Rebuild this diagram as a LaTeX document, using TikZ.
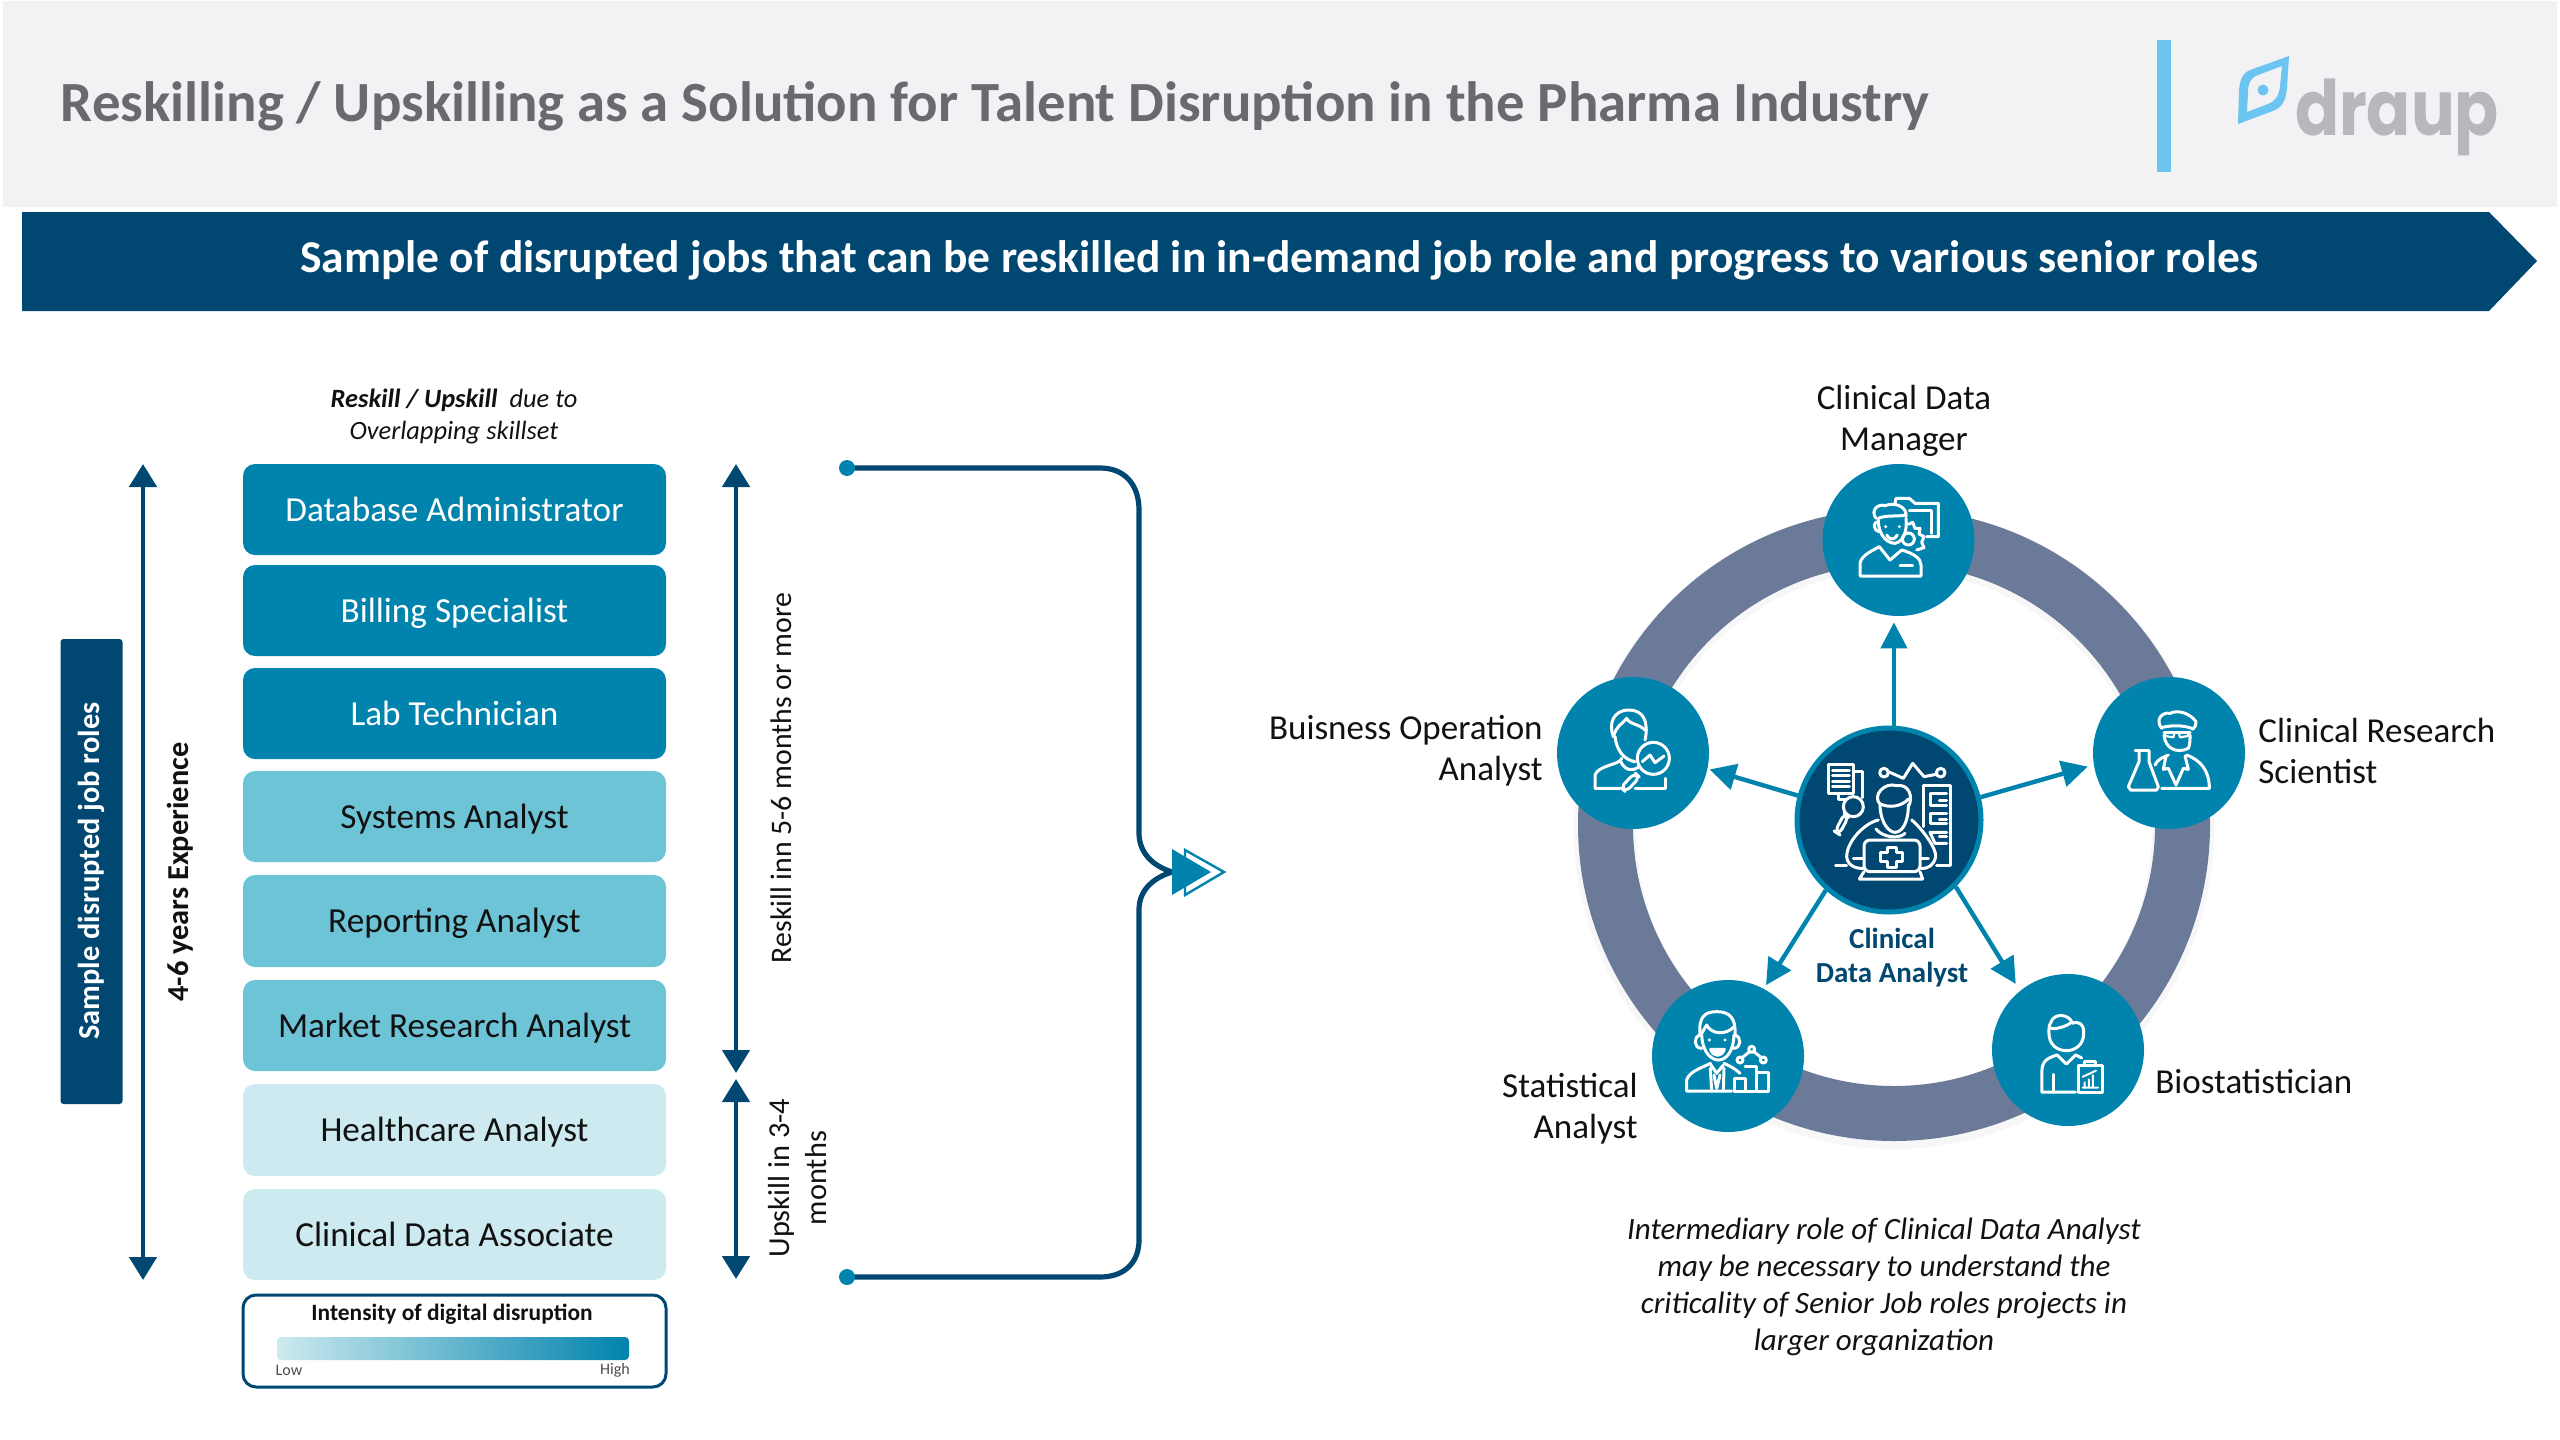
\documentclass[tikz,border=0pt]{standalone}
\usepackage{fontspec}
\setmainfont{Carlito}
\newfontfamily\logofont{Poppins}
\usetikzlibrary{arrows.meta}
\definecolor{navy}{HTML}{004872}
\definecolor{teal1}{HTML}{0083AD}
\definecolor{teal2}{HTML}{6CC4D6}
\definecolor{teal3}{HTML}{CCEAEF}
\definecolor{ringc}{HTML}{6B7A99}
\definecolor{headbg}{HTML}{F2F1F4}
\definecolor{sky}{HTML}{6CC5F1}
\definecolor{titlec}{HTML}{6A6A6E}
\definecolor{inkc}{HTML}{111111}
\definecolor{logoc}{HTML}{B8B8BC}
\tikzset{
 rolebox/.style={rounded corners=6pt,minimum width=211.5pt,inner sep=0pt,text height=15pt,text depth=3.5pt,font=\fontsize{17.6}{21}\selectfont},
 darkrole/.style={rolebox,fill=teal1,text=white},
 midrole/.style={rolebox,fill=teal2,text=inkc},
 lightrole/.style={rolebox,fill=teal3,text=inkc},
 vtip/.style={{Triangle[length=11.5pt,width=13.5pt]}-{Triangle[length=11.5pt,width=13.5pt]},navy,line width=2.4pt},
 spoke/.style={-{Triangle[length=13pt,width=13pt]},teal1,line width=2.2pt},
 hub/.style={circle,fill=teal1,minimum size=76pt,inner sep=0pt},
 lab/.style={font=\fontsize{17.5}{20.5}\selectfont,text=inkc,inner sep=0pt},
 ic/.style={draw=white,line width=1.5pt,line join=round,line cap=round},
 brk/.style={navy,line width=2.6pt},
 crop/.style={x=0.16667pt,y=-0.16667pt},
 bdot/.style={circle,fill=teal1,minimum size=8pt,inner sep=0pt},
}
\begin{document}
\begin{tikzpicture}[x=0.5pt,y=-0.5pt]
\useasboundingbox (0,0) rectangle (2560,1440);
\fill[white] (0,0) rectangle (2560,1440);
% header
\fill[headbg] (3,1) rectangle (2557,207);
\node[anchor=center,text=titlec,inner sep=0pt,font=\fontsize{28.4}{30}\selectfont\bfseries] (title) at (995,106) {Reskilling / Upskilling as a Solution for Talent Disruption in the Pharma Industry};
\fill[sky] (2157,40) rectangle (2171,172);
\fill[sky,even odd rule] (2289,56) .. controls (2270,63) and (2258,67) .. (2250,70) .. controls (2241,74) and (2240,82) .. (2239,90) -- (2238,124) -- (2270,112) .. controls (2284,108) and (2286,98) .. (2287,88) -- cycle
 (2282,66) -- (2258,75) .. controls (2250,78) and (2248,84) .. (2248,92) -- (2247,112) -- (2268,104) .. controls (2276,101) and (2279,95) .. (2280,86) -- cycle;
\fill[sky] (2263,90) circle[radius=5.5];
\node[inner sep=0pt,text=logoc] (logo) at (2397,117) {\resizebox*{102pt}{38.5pt}{\logofont\bfseries draup}};
% banner
\fill[navy] (22,212) -- (2489,212) -- (2537,261) -- (2489,311) -- (22,311) -- cycle;
\node[text=white,inner sep=0pt,font=\fontsize{22.75}{26}\selectfont\bfseries] (bannertext) at (1279,260) {Sample of disrupted jobs that can be reskilled in in-demand job role and progress to various senior roles};
% left column
\node[inner sep=0pt,align=center,font=\fontsize{13.2}{16}\selectfont\itshape,text=inkc] (cap) at (454,416) {\textbf{Reskill / Upskill}\ \ due to\\Overlapping skillset};
\node[darkrole,minimum height=45.5pt] (r1) at (454.5,509.5) {Database Administrator};
\node[darkrole,minimum height=45.5pt] (r2) at (454.5,610.5) {Billing Specialist};
\node[darkrole,minimum height=45.5pt] (r3) at (454.5,713.5) {Lab Technician};
\node[midrole,minimum height=45.5pt] (r4) at (454.5,816.5) {Systems Analyst};
\node[midrole,minimum height=46pt] (r5) at (454.5,921) {Reporting Analyst};
\node[midrole,minimum height=45.5pt] (r6) at (454.5,1025.5) {Market Research Analyst};
\node[lightrole,minimum height=46pt] (r7) at (454.5,1130) {Healthcare Analyst};
\node[lightrole,minimum height=45.5pt] (r8) at (454.5,1234.5) {Clinical Data Associate};
% legend
\draw[navy,line width=1.5pt,rounded corners=6.5pt] (243,1295) rectangle (666,1387);
\node[inner sep=0pt,font=\fontsize{11.7}{14}\selectfont\bfseries,text=inkc] (legt) at (452,1314.5) {Intensity of digital disruption};
\shade[left color=teal3,right color=teal1,rounded corners=2pt] (277,1337) rectangle (629,1360);
\node[inner sep=0pt,font=\fontsize{8}{10}\selectfont,text=black!70] (low) at (289,1370) {Low};
\node[inner sep=0pt,font=\fontsize{8}{10}\selectfont,text=black!70] (high) at (615,1370) {High};
% side bar
\node[fill=navy,rounded corners=1.5pt,minimum width=31pt,minimum height=232.5pt,inner sep=0pt] (sidebar) at (91.5,871.5) {};
\node[rotate=90,text=white,inner sep=0pt,font=\fontsize{15.2}{18}\selectfont\bfseries] (sidetext) at (91,871) {Sample disrupted job roles};
% vertical arrows
\coordinate (a1t) at (143,464); \coordinate (a1b) at (143,1280);
\draw[vtip] (a1t) -- (a1b);
\node[rotate=90,inner sep=0pt,font=\fontsize{15.2}{18}\selectfont\bfseries,text=inkc] (exp) at (180,872) {4-6 years Experience};
\coordinate (a2t) at (736,464); \coordinate (a2b) at (736,1073);
\draw[vtip] (a2t) -- (a2b);
\coordinate (a3t) at (736,1079); \coordinate (a3b) at (736,1279);
\draw[vtip] (a3t) -- (a3b);
\node[rotate=90,inner sep=0pt,font=\fontsize{14.9}{18}\selectfont,text=inkc] (rs) at (781,778) {Reskill inn 5-6 months or more};
\node[rotate=90,inner sep=0pt,align=center,font=\fontsize{15.2}{18.5}\selectfont,text=inkc] (us) at (798,1178) {Upskill in 3-4\\months};
% bracket
\coordinate (bm) at (1172,872);
\coordinate (d1e) at (847,468); \coordinate (d2e) at (847,1277);
\draw[brk] (d1e) -- (1100,468) .. controls (1125,468) and (1139,485) .. (1139,510) -- (1139,833) .. controls (1139,853) and (1153,866) .. (bm);
\draw[brk] (d2e) -- (1100,1277) .. controls (1125,1277) and (1139,1262) .. (1139,1240) -- (1139,910) .. controls (1139,890) and (1153,878) .. (bm);
\node[bdot] (d1) at (d1e) {};
\node[bdot] (d2) at (d2e) {};
\draw[teal1,line width=1.2pt,fill=white,line join=miter] (1185,850) -- (1224,872) -- (1185,895) -- cycle;
\fill[teal1] (1172,849) -- (1211,872) -- (1172,895) -- cycle;
% ring
\fill[black!3] (1894,829) circle[radius=320];
\fill[white] (1894,829) circle[radius=258];
\draw[ringc,line width=27.5pt] (1894,825) circle[radius=288.5];
\node[hub] (top) at (1898.5,540) {};
\node[hub] (lft) at (1633,753) {};
\node[hub] (rgt) at (2169,753) {};
\node[hub] (bl) at (1728,1056) {};
\node[hub] (br) at (2068,1050) {};
\node[circle,fill=navy,draw=teal1,line width=2.5pt,minimum size=92pt,inner sep=0pt] (ctr) at (1889,820) {};
\draw[spoke,shorten >=3pt] (ctr.87) -- (ctr.87 |- top.south);
\draw[spoke,shorten >=1pt] (ctr.165.5) -- (lft.-12.6);
\draw[spoke,shorten >=3pt] (ctr.14.5) -- (rgt.189);
\draw[spoke,shorten >=2pt] (ctr.228) -- (bl.62);
\draw[spoke,shorten >=4pt] (ctr.-45) -- (br.129);
% labels
\node[lab,align=center] (l1) at (1904,421) {Clinical Data\\Manager};
\node[lab,align=right,anchor=east] (l2) at (1543,751) {Buisness Operation\\Analyst};
\node[lab,align=left,anchor=west] (l3) at (2258,751) {Clinical Research\\Scientist};
\node[lab,anchor=west] (l4) at (2155,1082) {Biostatistician};
\node[lab,align=right,anchor=east] (l5) at (1638,1109) {Statistical\\Analyst};
\node[inner sep=0pt,align=center,text=navy,font=\fontsize{14.5}{17}\selectfont\bfseries] (l6) at (1892,958) {Clinical\\Data Analyst};
\node[inner sep=0pt,align=center,text=inkc,font=\fontsize{15.5}{18.6}\selectfont\itshape] (note) at (1884,1287) {Intermediary role of Clinical Data Analyst\\may be necessary to understand the\\criticality of Senior Job roles projects in\\larger organization\hspace*{10pt}};
% top icon
\begin{scope}[shift={(1820,465)},crop]
\draw[ic] (225,115) -- (228,100) -- (268,100) -- (285,115) -- (355,115) -- (355,215) -- (320,215);
\draw[ic] (268,135) -- (335,135) -- (335,205);
\draw[ic] (265,222) circle[radius=18];
\draw[ic] (265,178) -- (278,172) -- (285,190) -- (300,190) -- (297,207) -- (312,215) -- (305,232) -- (312,248) -- (290,255);
\draw[ic] (175,165) .. controls (175,215) and (205,235) .. (225,235) .. controls (250,230) and (262,200) .. (258,160);
\draw[ic] (175,170) .. controls (158,170) and (158,195) .. (178,200);
\draw[ic] (168,160) .. controls (150,135) and (175,115) .. (195,122) .. controls (225,110) and (262,125) .. (258,155);
\draw[ic] (175,160) .. controls (195,150) and (235,155) .. (258,150);
\fill[white] (197,185) circle[radius=5] (238,185) circle[radius=5];
\draw[ic] (200,210) .. controls (208,226) and (224,226) .. (232,210);
\draw[ic] (120,333) -- (120,295) .. controls (125,270) and (155,258) .. (178,245) -- (210,285) -- (245,255) .. controls (280,265) and (303,280) .. (303,300) -- (303,333) -- cycle;
\draw[ic] (240,300) -- (278,300);
\end{scope}
% left icon
\begin{scope}[shift={(1555,680)},crop]
\draw[ic] (175,170) .. controls (160,130) and (175,90) .. (222,90) .. controls (265,90) and (282,125) .. (270,180);
\draw[ic] (175,170) .. controls (185,135) and (205,130) .. (215,115) .. controls (225,135) and (250,130) .. (270,150);
\draw[ic] (180,170) .. controls (185,215) and (210,240) .. (240,245);
\draw[ic] (200,235) .. controls (195,255) and (130,255) .. (120,285) -- (120,325) -- (195,325);
\draw[ic] (197,245) .. controls (212,275) and (235,272) .. (250,262);
\draw[ic] (240,325) -- (330,325) -- (330,295);
\draw[ic] (295,235) circle[radius=48];
\draw[ic] (262,245) -- (285,225) -- (300,248) -- (327,228);
\draw[ic,rounded corners=3pt] (240,278) -- (254,292) -- (212,336) -- (197,322) -- cycle;
\end{scope}
% right icon
\begin{scope}[shift={(2090,680)},crop]
\draw[ic] (215,145) .. controls (195,120) and (215,95) .. (240,100) .. controls (265,88) and (300,100) .. (318,125) .. controls (320,135) and (315,140) .. (308,148);
\draw[ic] (213,143) .. controls (245,135) and (280,135) .. (308,146);
\draw[ic] (222,157) -- (300,157);
\draw[ic,line width=1.1pt] (226,157) -- (226,168) -- (250,172) -- (254,157) (266,157) -- (270,172) -- (294,168) -- (295,157);
\draw[ic] (222,165) .. controls (225,205) and (260,222) .. (295,205) .. controls (300,195) and (300,180) .. (300,165);
\draw[ic] (195,255) .. controls (205,235) and (220,232) .. (235,225);
\draw[ic] (290,225) .. controls (330,240) and (358,270) .. (358,325) -- (215,325);
\draw[ic] (228,228) -- (220,268) -- (235,265) -- (258,315) -- (280,265) -- (295,268) -- (285,228);
\draw[ic] (135,212) -- (175,212);
\draw[ic] (147,212) -- (147,245) -- (115,320) -- (122,330) -- (200,330) -- (205,320) -- (177,245) -- (177,212);
\end{scope}
% bottom-left icon
\begin{scope}[shift={(1650,980)},crop]
\draw[ic] (150,165) .. controls (145,110) and (165,95) .. (200,95) .. controls (240,95) and (258,115) .. (255,165);
\draw[ic] (155,165) .. controls (158,225) and (190,240) .. (205,240) .. controls (225,240) and (250,220) .. (252,165);
\draw[ic] (152,165) -- (170,135) .. controls (185,165) and (230,165) .. (252,140);
\draw[ic] (150,165) .. controls (130,170) and (130,205) .. (155,205);
\draw[ic] (255,165) .. controls (275,170) and (275,205) .. (250,205);
\fill[white] (178,180) circle[radius=5] (225,180) circle[radius=5];
\draw[ic,fill=white] (182,208) -- (223,208) .. controls (215,232) and (190,232) .. cycle;
\draw[ic] (245,333) -- (110,333) -- (110,300) .. controls (118,275) and (150,265) .. (182,250);
\draw[ic] (222,250) .. controls (240,258) and (258,268) .. (270,280);
\draw[ic] (183,255) -- (200,280) -- (220,255);
\draw[ic] (192,285) -- (200,325) -- (210,285);
\draw[ic] (181,265) -- (185,333) (222,265) -- (220,333);
\draw[ic] (252,333) -- (252,295) -- (285,295) -- (285,333);
\draw[ic] (285,258) -- (320,258) -- (320,333);
\draw[ic] (320,278) -- (355,278) -- (355,333) -- (252,333);
\draw[ic] (270,240) circle[radius=9] (305,208) circle[radius=9] (340,240) circle[radius=9];
\draw[ic] (276,233) -- (299,215) (312,215) -- (334,233);
\end{scope}
% bottom-right icon
\begin{scope}[shift={(1500,360)},x=0.2551pt,y=-0.2551pt]
\draw[ic] (1076,1320) .. controls (1076,1365) and (1144,1365) .. (1144,1320) .. controls (1146,1300) and (1130,1295) .. (1122,1300) .. controls (1115,1280) and (1085,1280) .. (1080,1298) .. controls (1075,1305) and (1076,1312) .. (1076,1320) ;
\draw[ic] (1080,1310) .. controls (1095,1312) and (1110,1305) .. (1118,1300);
\draw[ic] (1092,1362) .. controls (1075,1368) and (1062,1372) .. (1062,1395) -- (1062,1435) -- (1128,1435);
\draw[ic] (1092,1362) -- (1110,1380) -- (1128,1362) -- (1140,1368);
\draw[ic] (1085,1435) -- (1085,1400);
\draw[ic] (1134,1382) -- (1180,1382) -- (1180,1435) -- (1134,1435) -- cycle;
\draw[ic] (1146,1382) -- (1146,1374) -- (1168,1374) -- (1168,1382);
\draw[ic,line width=1pt] (1142,1426) -- (1172,1426) (1146,1424) -- (1146,1416) (1154,1424) -- (1154,1410) (1162,1424) -- (1162,1402) (1142,1405) -- (1168,1393);
\end{scope}
% centre icon
\begin{scope}[shift={(1790,725)},crop]
\draw[ic] (115,118) rectangle (190,205);
\draw[ic] (128,135) -- (178,135) (128,152) -- (178,152) (128,168) -- (178,168) (128,185) -- (178,185);
\draw[ic] (190,140) -- (218,140) -- (218,218);
\draw[ic] (145,205) -- (145,222) -- (168,222);
\draw[ic] (190,245) circle[radius=30];
\draw[ic,rounded corners=3pt] (163,265) -- (175,277) -- (147,328) -- (135,320) -- cycle;
\draw[ic] (282,143) circle[radius=13] (452,143) circle[radius=13];
\draw[ic] (295,140) -- (340,160) -- (368,115) -- (402,155) -- (438,148);
\draw[ic] (400,305) -- (400,182) -- (480,182) -- (480,420) -- (440,420);
\draw[ic] (470,205) -- (420,205) -- (420,240) -- (470,240);
\draw[ic] (470,265) -- (420,265) -- (420,295) -- (470,295);
\draw[ic] (470,322) -- (420,322) -- (435,355) -- (470,355);
\draw[ic] (448,225) -- (470,225) (448,282) -- (470,282) (448,335) -- (470,335);
\draw[ic] (270,240) .. controls (272,300) and (300,322) .. (315,322) .. controls (335,322) and (355,295) .. (355,240);
\draw[ic] (270,238) .. controls (245,210) and (285,170) .. (320,182) .. controls (355,175) and (372,215) .. (355,245);
\draw[ic] (270,236) .. controls (295,250) and (335,245) .. (355,222);
\draw[ic] (258,312) .. controls (275,335) and (325,345) .. (345,325);
\draw[ic] (265,285) .. controls (222,295) and (170,350) .. (170,395) .. controls (172,420) and (195,432) .. (222,430);
\draw[ic] (365,285) .. controls (395,310) and (440,370) .. (437,395) .. controls (432,420) and (415,432) .. (392,430);
\draw[ic,fill=navy,rounded corners=3pt] (222,345) rectangle (390,440);
\draw[ic] (137,420) -- (170,420) (190,400) -- (222,400) (390,400) -- (415,400);
\draw[ic] (208,462) -- (398,462) (222,440) -- (208,462) (390,440) -- (398,462);
\draw[ic] (291,368) -- (319,368) -- (319,381) -- (338,381) -- (338,409) -- (319,409) -- (319,428) -- (291,428) -- (291,409) -- (272,409) -- (272,381) -- (291,381) -- cycle;
\end{scope}
\end{tikzpicture}
\end{document}
